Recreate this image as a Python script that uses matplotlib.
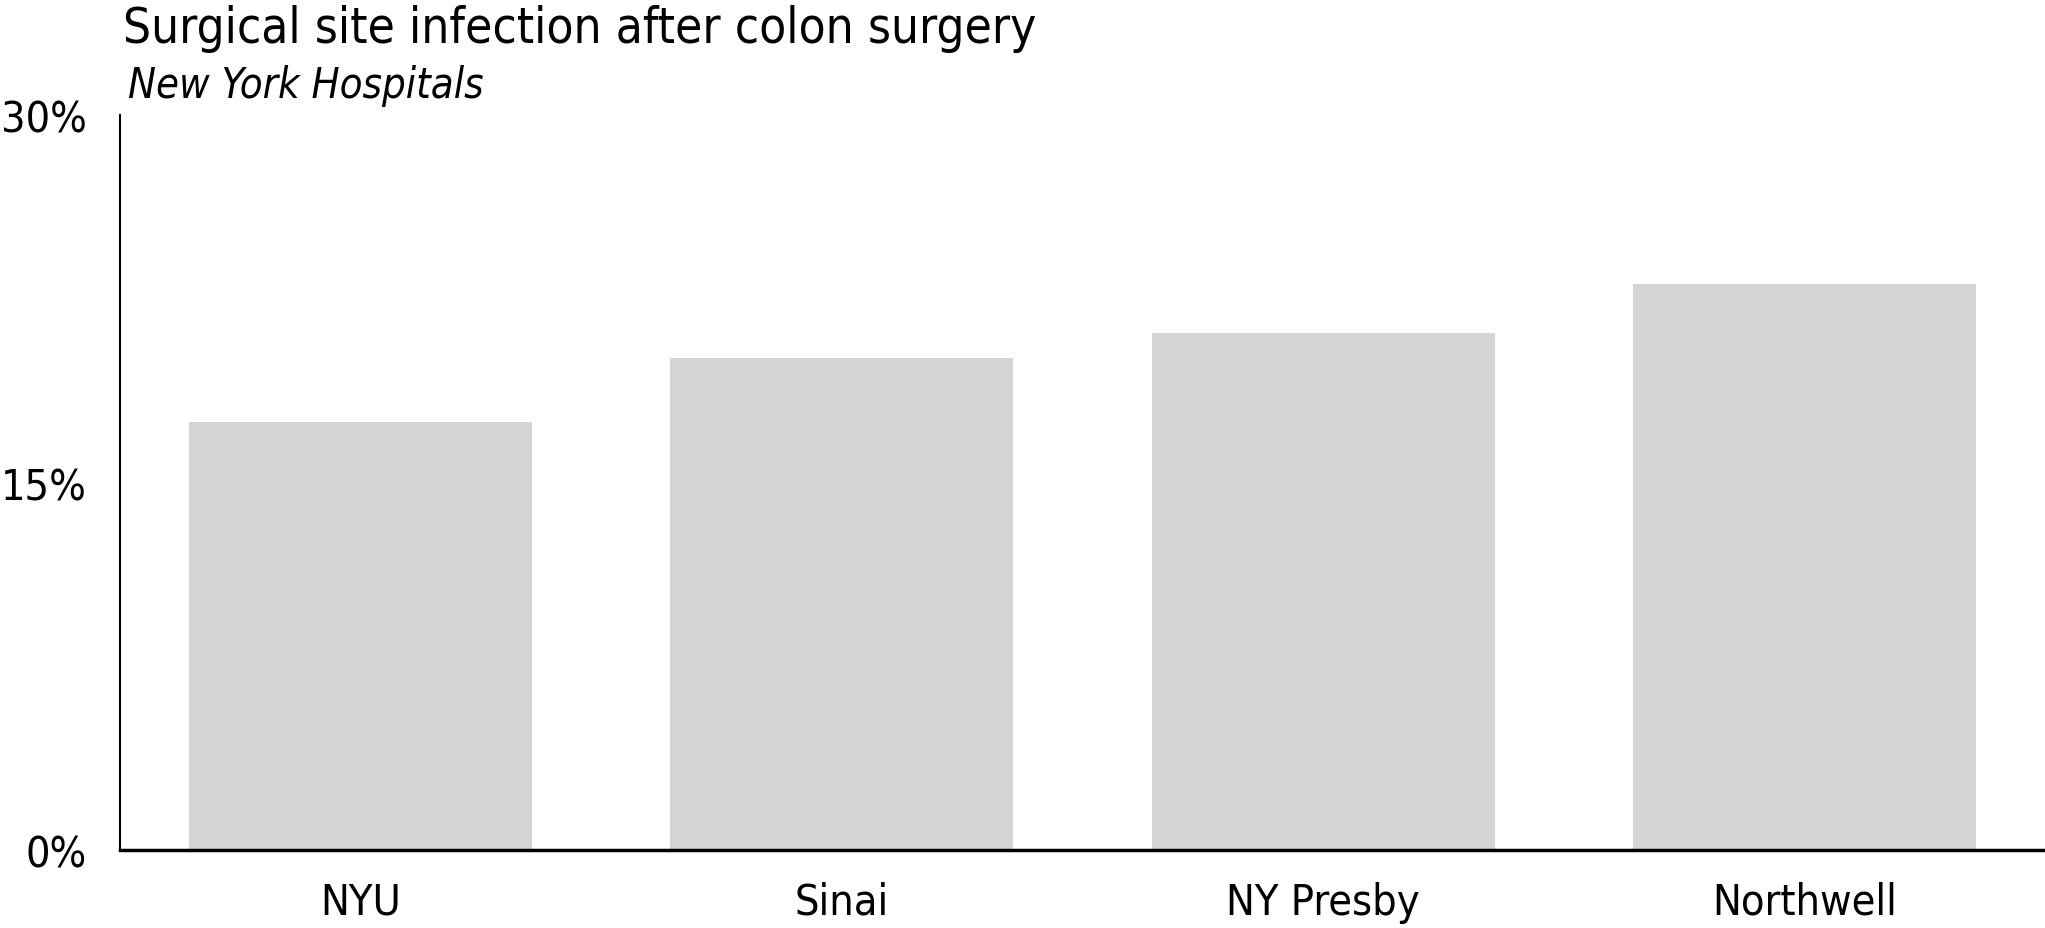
import numpy as np
import matplotlib
matplotlib.use("Agg")
import matplotlib.pyplot as plt
from matplotlib.ticker import FuncFormatter

hospitals = ["NYU", "Sinai", "NY Presby", "Northwell"]
infection_rate = [17.5, 20.1, 21.1, 23.1]
yticks = [0, 15, 30]

plt.rcParams['font.family'] = ['DejaVu Sans']

fig = plt.figure(figsize=(20.45, 9.29), dpi=100)
ax = fig.add_axes([0.0587, 0.0835, 0.9413, 0.7915])

x = np.arange(len(hospitals))
ax.bar(x, infection_rate, width=0.713, color="#d4d4d4")

ax.set_xlim(-0.5, 3.5)
ax.set_ylim(0, 30)
ax.set_yticks(yticks)
ax.yaxis.set_major_formatter(FuncFormatter(lambda v, p: "%d%%" % v))
ax.set_xticks(x)
ax.set_xticklabels(hospitals)

for lab in ax.get_xticklabels() + ax.get_yticklabels():
    lab.set_fontsize(31)
    lab.set_fontstretch("condensed")
ax.tick_params(axis="y", length=0, pad=24)
ax.tick_params(axis="x", length=0, pad=22)

for s in ["top", "right"]:
    ax.spines[s].set_visible(False)
ax.spines["left"].set_linewidth(1.5)
ax.spines["bottom"].set_linewidth(2.5)

fig.text(0.060, 0.995, "Surgical site infection after colon surgery",
         fontsize=35.5, fontstretch="condensed", va="top", ha="left")
fig.text(0.0625, 0.93, "New York Hospitals", fontsize=30, style="italic",
         fontstretch="condensed", va="top", ha="left")

fig.savefig("out.png")
